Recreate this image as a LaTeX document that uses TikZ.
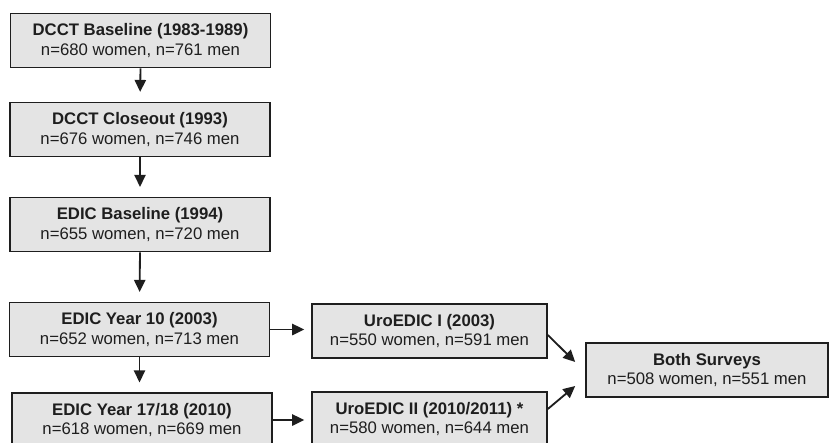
\documentclass[tikz,border=0pt]{standalone}
\usepackage{fontspec}
\setmainfont{Liberation Sans}
\usetikzlibrary{arrows.meta,calc}
\definecolor{boxgray}{RGB}{228,228,228}
\definecolor{inkgray}{RGB}{30,30,30}

\begin{document}
\begin{tikzpicture}[
	x=0.025cm, y=-0.025cm,
	line width=1.3pt,
	box/.style={
		draw=inkgray, fill=boxgray,
		line width=1.1pt,
		align=center,
		inner sep=0pt,
		text=inkgray,
		font=\fontsize{11.9}{13.6}\selectfont,
		minimum width=6.5cm,
		minimum height=1.35cm
	},
	survey/.style={
		box,
		minimum width=5.875cm
	},
	sumbox/.style={
		box,
		minimum width=6.05cm
	},
	arr/.style={
		draw=inkgray,
		-{Triangle[length=8.5pt,width=8pt]},
		shorten >=7pt
	}
	]
	
	\clip (0,0) rectangle (829,442);
	
	\node[box] (base)  at (140.5,40.5) {\textbf{DCCT Baseline (1983-1989)}\\n=680 women, n=761 men};
	\node[box] (close) at (140,129.5)  {\textbf{DCCT Closeout (1993)}\\n=676 women, n=746 men};
	\node[box] (edicb) at (140,224.5)  {\textbf{EDIC Baseline (1994)}\\n=655 women, n=720 men};
	\node[box] (yr10)  at (139.5,329.5) {\textbf{EDIC Year 10 (2003)}\\n=652 women, n=713 men};
	\node[box] (yr17)  at (142,420)    {\textbf{EDIC Year 17/18 (2010)}\\n=618 women, n=669 men};
	
	\node[survey] (uro1) at (429.5,331) {\textbf{UroEDIC I (2003)}\\n=550 women, n=591 men};
	\node[survey] (uro2) at (429.5,419) {\textbf{UroEDIC II (2010/2011) *}\\n=580 women, n=644 men};
	
	\node[sumbox] (both) at (707,370) {\textbf{Both Surveys}\\n=508 women, n=551 men};
	
	\draw[arr] (base.south)  -- (close.north);
	\draw[arr] (close.south) -- (edicb.north);
	\draw[arr] (edicb.south) -- (yr10.north);
	\draw[arr] (yr10.south)  -- (yr10.south |- yr17.north);
	
	\draw[arr, shorten >=5pt] (yr10.east) -- (yr10.east -| uro1.west);
	\draw[arr, shorten >=5pt] (yr17.east) -- (yr17.east -| uro2.west);
	
	% into the merged sample
	\draw[arr, shorten >=0pt] ($(uro1.east)+(0,4)$)   -- ($(both.west)+(-10,-8)$);
	\draw[arr, shorten >=0pt] ($(uro2.east)+(0,-10)$) -- ($(both.west)+(-10,16)$);
	
\end{tikzpicture}
\end{document}
